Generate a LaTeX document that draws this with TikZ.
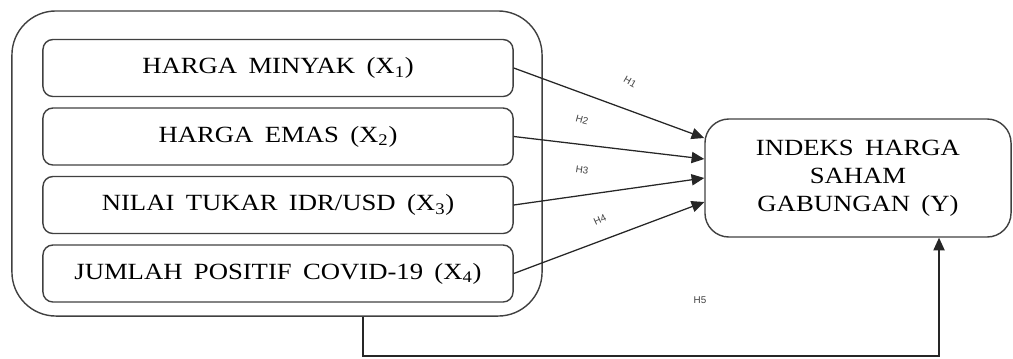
\documentclass[tikz,border=0pt]{standalone}
\usepackage{fontspec}
\setmainfont[FakeStretch=1.15,WordSpace=1.7]{Liberation Serif}
\setsansfont{Liberation Sans}
\usepackage{tikz}
\usetikzlibrary{positioning}
\usetikzlibrary{arrows.meta,calc}
\tikzstyle{groupbox}=[draw=black!75,line width=1pt,rounded corners=1.1cm,minimum width=13.25cm,minimum height=7.625cm]
\tikzstyle{varbox}=[draw=black!75,line width=1pt,rounded corners=0.25cm,minimum width=11.75cm,minimum height=1.425cm,inner sep=0pt,font=\fontsize{16.5}{20}\selectfont]
\tikzstyle{targetbox}=[draw=black!75,line width=1pt,rounded corners=0.6cm,minimum width=7.65cm,minimum height=2.95cm,align=center,font=\fontsize{16.5}{20}\selectfont]
\tikzstyle{edge} = [draw,line width=0.9pt,black!85,-{Triangle[length=9pt,width=8pt]}]
\tikzstyle{hyp} = [font=\sffamily\fontsize{7}{8}\selectfont,black!75,inner sep=0pt]

\begin{document}
\begin{tikzpicture}[x=0.025cm,y=-0.025cm]
    \useasboundingbox (0,0) rectangle (1013,358);

    \node[groupbox] (grp) at (277,163.5) {};

    \foreach \pos/\name/\txt in {{(278,68)/x1/{HARGA MINYAK (X\textsubscript{1})}}, {(278,136.5)/x2/{HARGA EMAS (X\textsubscript{2})}}, {(278,205)/x3/{NILAI TUKAR IDR/USD (X\textsubscript{3})}}, {(278,273.5)/x4/{JUMLAH POSITIF COVID-19 (X\textsubscript{4})}}}
        \node[varbox] (\name) at \pos {\txt};

    \node[targetbox] (ihsg) at (858,178) {INDEKS HARGA\\SAHAM\\GABUNGAN (Y)};

    \foreach \source/\shift in {x1/1, x2/0.475, x3/0, x4/-0.6}
            \path[edge] (\source.east) -- ([yshift=\shift cm]ihsg.west);

    \foreach \pos/\name/\rot/\lab in {{(630,82)/h1/-30/H1}, {(582,120)/h2/-15/H2}, {(582,170)/h3/-8/H3}, {(600,220)/h4/25/H4}, {(700,300)/h5/0/H5}}
        \node[hyp,rotate=\rot] (\name) at \pos {\lab};

    \coordinate (fb) at (363,356);
    \path[edge] (fb |- grp.south) -- (fb) -| ([xshift=2.025cm]ihsg.south);

\end{tikzpicture}
\end{document}
